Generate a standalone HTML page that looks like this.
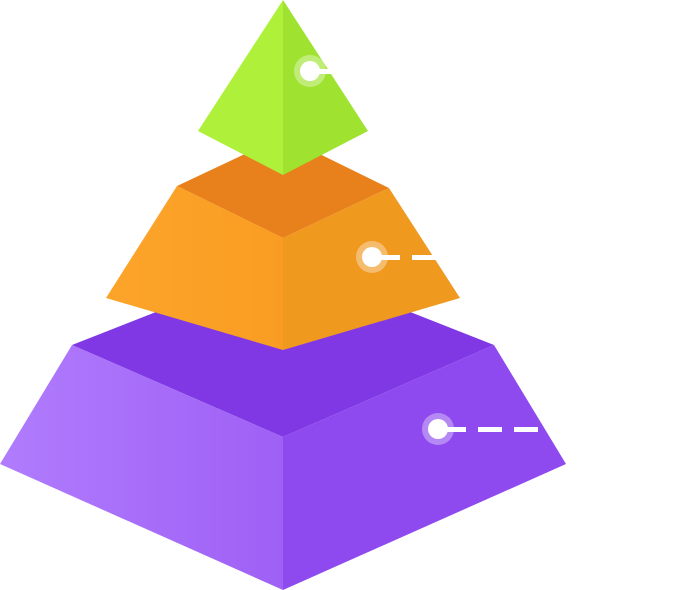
<!DOCTYPE html>
<html><head><style>html,body{margin:0;padding:0;background:#fff;width:674px;height:590px;overflow:hidden}</style></head>
<body>
<svg width="674" height="590" viewBox="0 0 674 590" xmlns="http://www.w3.org/2000/svg">
<defs>
<linearGradient id="pl" x1="0" y1="0" x2="1" y2="0"><stop offset="0" stop-color="#b07cfd"/><stop offset="1" stop-color="#9f60f5"/></linearGradient>
<linearGradient id="ol" x1="0" y1="0" x2="1" y2="0"><stop offset="0" stop-color="#fca42a"/><stop offset="1" stop-color="#f99d22"/></linearGradient>
</defs>
<!-- purple -->
<polygon points="72,345 283,262 494,345 283,437" fill="#7f38e4"/>
<polygon points="72,345 283,437 283,590 0,464" fill="url(#pl)"/>
<polygon points="283,437 494,345 566,464 283,590" fill="#8e4aef"/>
<!-- orange -->
<polygon points="177,186 283,136 389,188 283,238" fill="#e8801c"/>
<polygon points="177,186 283,238 283,350 106,298" fill="url(#ol)"/>
<polygon points="283,238 389,188 460,298 283,350" fill="#f0991f"/>
<!-- green -->
<polygon points="283,0 198,131 283,175" fill="#aef03a"/>
<polygon points="283,0 368,131 283,175" fill="#9fe330"/>
<!-- markers -->
<g fill="#fff">
<circle cx="310" cy="71" r="16" fill="#fff" fill-opacity="0.35"/>
<circle cx="310" cy="71" r="10"/>
<rect x="318" y="69" width="15" height="5"/>
<circle cx="372" cy="257" r="16" fill="#fff" fill-opacity="0.35"/>
<circle cx="372" cy="257" r="10"/>
<rect x="380" y="255" width="20" height="5"/>
<rect x="412" y="255" width="24" height="5"/>
<circle cx="438" cy="429" r="16" fill="#fff" fill-opacity="0.35"/>
<circle cx="438" cy="429" r="10"/>
<rect x="446" y="427" width="20" height="5"/>
<rect x="478" y="427" width="24" height="5"/>
<rect x="514" y="427" width="24" height="5"/>
</g>
</svg>
</body></html>
